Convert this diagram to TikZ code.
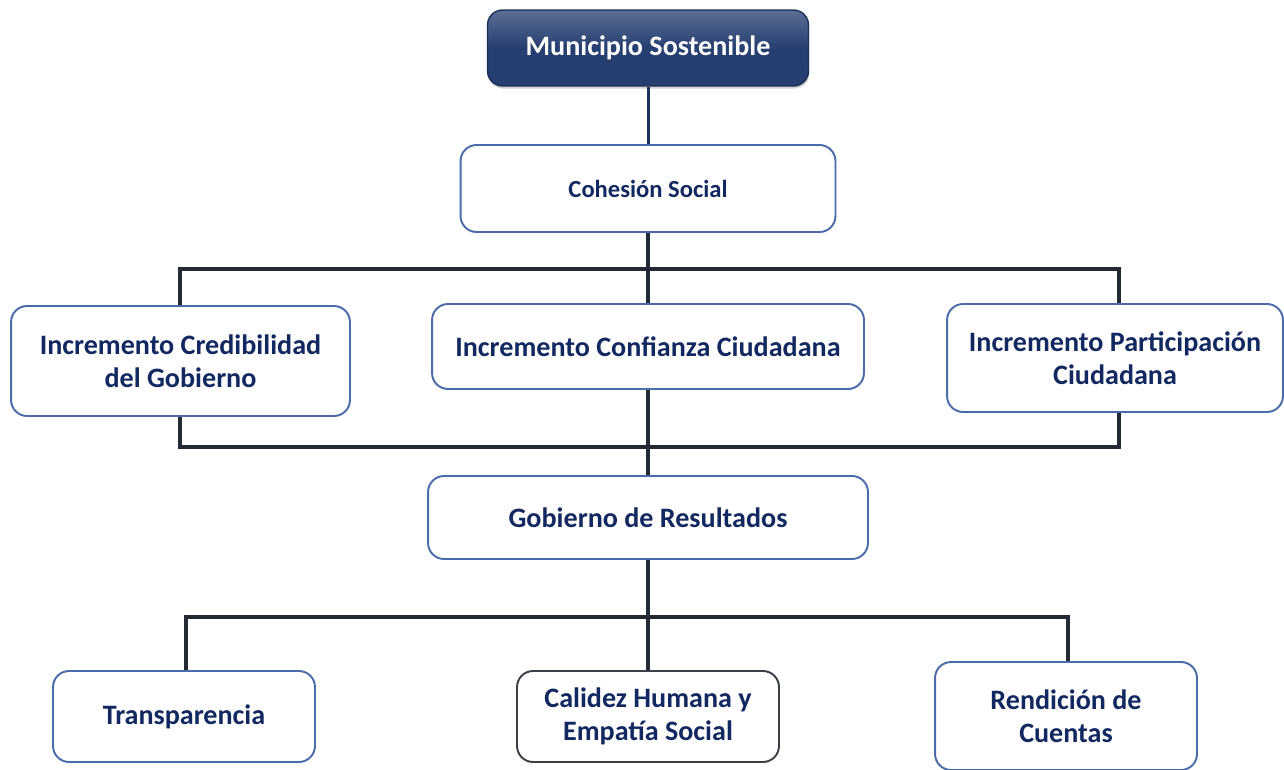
\documentclass[tikz,border=0pt]{standalone}
\usepackage{fontspec}
\setmainfont{Carlito}
\usetikzlibrary{positioning,shadows}
\definecolor{navytext}{RGB}{18,40,96}
\definecolor{boxline}{RGB}{74,108,170}
\definecolor{linkgray}{RGB}{36,42,52}
\definecolor{topfill}{RGB}{38,62,112}
\definecolor{topline}{RGB}{28,48,92}
\tikzset{
  box/.style={draw=boxline, line width=1.1pt, rounded corners=0.32cm, fill=white,
    align=center, text=navytext, font=\bfseries\fontsize{16}{18.8}\selectfont},
  topbox/.style={draw=topline, line width=0.8pt, rounded corners=0.3cm,
    top color=topfill!75!white, bottom color=topfill, middle color=topfill,
    drop shadow={shadow xshift=0.5pt, shadow yshift=-1.5pt, opacity=0.35},
    text=white, font=\bfseries\fontsize{16}{18.8}\selectfont},
  link/.style={draw=linkgray, line width=2.3pt},
  toplink/.style={draw=topline, line width=1.7pt},
}
\begin{document}
\begin{tikzpicture}[x=0.02cm, y=-0.02cm]
    \useasboundingbox (0,0) rectangle (1284,770);

    % Top levels
    \node[topbox, minimum width=6.42cm, minimum height=1.52cm] (muni) at (648,48) {Municipio Sostenible};
    \node[box, minimum width=7.5cm, minimum height=1.74cm,
          font=\bfseries\fontsize{14}{17}\selectfont] (coh) at (648,188.5) {Cohesión Social};

    % Middle row
    \node[box, minimum width=6.78cm, minimum height=2.2cm] (cred) at (180.5,361) {Incremento Credibilidad\\del Gobierno};
    \node[box, minimum width=8.64cm, minimum height=1.7cm] (conf) at (648,346.5) {Incremento Confianza Ciudadana};
    \node[box, minimum width=6.72cm, minimum height=2.16cm] (part) at (1115,358) {Incremento Participación\\Ciudadana};

    \node[box, minimum width=8.8cm, minimum height=1.66cm] (gob) at (648,517.5) {Gobierno de Resultados};

    % Bottom row
    \node[box, minimum width=5.24cm, minimum height=1.82cm] (trans) at (184,716.5) {Transparencia};
    \node[box, draw=linkgray!90, minimum width=5.24cm, minimum height=1.82cm] (cal) at (648,716.5) {Calidez Humana y\\Empatía Social};
    \node[box, minimum width=5.24cm, minimum height=2.16cm] (rend) at (1066,716) {Rendición de\\Cuentas};

    \coordinate (busa) at (648,269);
    \coordinate (busb) at (648,447);
    \coordinate (busc) at (648,617);

    % Connectors
    \draw[toplink] (muni.south) -- (coh.north);
    \draw[link] (coh.south) -- (conf.north);
    \draw[link] ([xshift=-0.5pt]cred.north) |- (busa) -| ([xshift=2pt]part.north);
    \draw[link] ([xshift=-0.5pt]cred.south) |- (busb) -| ([xshift=2pt]part.south);
    \draw[link] (conf.south) -- (gob.north);
    \draw[link] (gob.south) -- (cal.north);
    \draw[link] ([xshift=1pt]trans.north) |- (busc) -| ([xshift=1pt]rend.north);
\end{tikzpicture}
\end{document}
